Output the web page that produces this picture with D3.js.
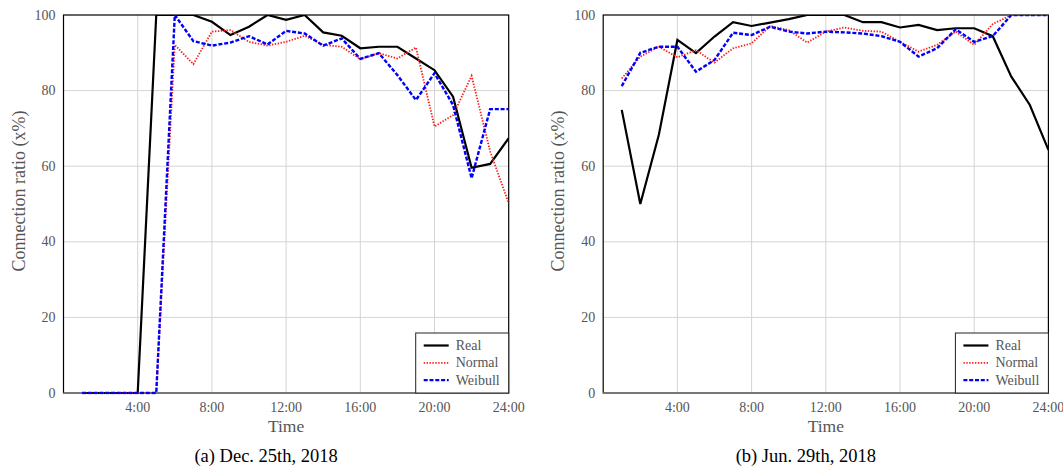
<!DOCTYPE html>
<html>
<head>
<meta charset="utf-8">
<script src="https://cdn.jsdelivr.net/npm/d3@7/dist/d3.min.js"></script>
<style>
  body { margin: 0; background: #fff; }
</style>
</head>
<body>
<script>
// hours 1..24
var hours = d3.range(1, 25);
var xTicks = [4, 8, 12, 16, 20, 24];
var xTickLabels = ["4:00", "8:00", "12:00", "16:00", "20:00", "24:00"];
var yTicks = [0, 20, 40, 60, 80, 100];

// (a) Dec. 25th, 2018
var decReal = [0, 0, 0, 0, 100, 100, 100, 98.2, 94.7, 96.9, 100, 98.7, 100, 95.4, 94.5, 91.2, 91.6, 91.6, 88.5, 85.4, 78.4, 59.6, 60.6, 67.4];
var decNormal = [0, 0, 0, 0, 0, 92.1, 87.0, 95.6, 96.0, 92.9, 91.9, 92.9, 94.5, 92.1, 91.6, 88.3, 89.9, 88.5, 91.4, 70.5, 73.5, 83.9, 63.9, 50.2];
var decWeibull = [0, 0, 0, 0, 0, 100, 93.1, 91.9, 92.7, 94.4, 92.2, 95.8, 95.1, 91.9, 93.8, 88.4, 89.9, 84.1, 77.5, 84.6, 76.2, 56.8, 75.1, 75.1];

// (b) Jun. 29th, 2018
var junReal = [74.9, 50, 68.3, 93.4, 89.9, 94.3, 98.1, 97.1, 98.0, 98.9, 100, 100, 100, 98.1, 98.1, 96.7, 97.4, 96.0, 96.5, 96.5, 94.4, 83.7, 76.2, 64.3];
var junNormal = [83.2, 89.0, 91.6, 88.8, 90.7, 87.4, 91.2, 92.5, 97.1, 96.0, 92.7, 95.6, 96.7, 95.8, 95.6, 92.9, 90.3, 92.1, 95.6, 92.1, 97.6, 100, 100, 100];
var junWeibull = [81.2, 90.0, 91.6, 91.6, 85.0, 88.1, 95.3, 94.7, 96.9, 95.6, 95.1, 95.6, 95.4, 95.1, 94.4, 92.9, 89.0, 91.2, 96.2, 92.9, 94.4, 100, 100, 100];

var seriesNames = ["Real", "Normal", "Weibull"];
var seriesStyle = {
  Real:    { color: "#000", width: 2.2, dash: null },
  Normal:  { color: "#ff1a1a", width: 1.8, dash: "1.4,1.5" },
  Weibull: { color: "#0000ff", width: 2.4, dash: "4,1.8" }
};
var serif = "'Liberation Serif', 'Times New Roman', serif";

var svg = d3.select("body").append("svg")
  .attr("width", 1063)
  .attr("height", 468)
  .attr("font-family", serif);

function drawPanel(id, left, data, caption) {
  var right = left + 445.2, top = 15, bottom = 393;
  var x = d3.scaleLinear().domain([0, 24]).range([left, right]);
  var y = d3.scaleLinear().domain([0, 100]).range([bottom, top]);
  var g = svg.append("g");

  // grid
  g.selectAll(".vg").data(xTicks.slice(0, -1)).enter().append("line")
    .attr("x1", d => x(d)).attr("x2", d => x(d))
    .attr("y1", top).attr("y2", bottom)
    .attr("stroke", "#d4d4d4").attr("stroke-width", 1);
  g.selectAll(".hg").data(yTicks.slice(1, -1)).enter().append("line")
    .attr("x1", left).attr("x2", right)
    .attr("y1", d => y(d)).attr("y2", d => y(d))
    .attr("stroke", "#d4d4d4").attr("stroke-width", 1);

  // frame
  g.append("rect")
    .attr("x", left).attr("y", top).attr("width", right - left).attr("height", bottom - top)
    .attr("fill", "none").attr("stroke", "#000").attr("stroke-width", 1.2);
  g.append("line")
    .attr("x1", left).attr("x2", right).attr("y1", bottom).attr("y2", bottom)
    .attr("stroke", "#777").attr("stroke-width", 2);

  svg.append("clipPath").attr("id", "clip" + id).append("rect")
    .attr("x", left).attr("y", top).attr("width", right - left).attr("height", bottom - top + 1.5);

  var line = d3.line().x((d, i) => x(hours[i])).y(d => y(d));
  var lines = g.append("g").attr("clip-path", "url(#clip" + id + ")");
  seriesNames.forEach(function (name, k) {
    var st = seriesStyle[name];
    lines.append("path")
      .datum(data[k])
      .attr("d", line)
      .attr("fill", "none")
      .attr("stroke", st.color)
      .attr("stroke-width", st.width)
      .attr("stroke-dasharray", st.dash)
      .attr("stroke-linejoin", "miter");
  });

  // tick labels
  g.selectAll(".xl").data(xTicks).enter().append("text")
    .attr("x", d => x(d)).attr("y", bottom + 19)
    .attr("text-anchor", "middle")
    .attr("font-size", 14).attr("fill", "#555")
    .text((d, i) => xTickLabels[i]);
  g.selectAll(".yl").data(yTicks).enter().append("text")
    .attr("x", left - 8).attr("y", d => y(d) + 4.5)
    .attr("text-anchor", "end")
    .attr("font-size", 14).attr("fill", "#555")
    .text(d => d);

  // axis titles
  g.append("text")
    .attr("x", (left + right) / 2).attr("y", bottom + 39)
    .attr("text-anchor", "middle").attr("font-size", 17.5).attr("fill", "#555")
    .text("Time");
  g.append("text")
    .attr("transform", "translate(" + (left - 39) + "," + 191 + ") rotate(-90)")
    .attr("text-anchor", "middle").attr("font-size", 18).attr("fill", "#555")
    .text("Connection ratio (x%)");

  // caption
  g.append("text")
    .attr("x", (left + right) / 2 - 20).attr("y", 462)
    .attr("text-anchor", "middle").attr("font-size", 18.5).attr("fill", "#000")
    .text(caption);

  // legend
  var lx = right - 93, ly = bottom - 60;
  var lg = g.append("g");
  lg.append("rect").attr("x", lx).attr("y", ly).attr("width", 93).attr("height", 60)
    .attr("fill", "#fff").attr("stroke", "#222").attr("stroke-width", 1);
  seriesNames.forEach(function (name, k) {
    var st = seriesStyle[name];
    var yy = ly + 12.5 + k * 17.3;
    lg.append("line")
      .attr("x1", lx + 8).attr("x2", lx + 33).attr("y1", yy).attr("y2", yy)
      .attr("stroke", st.color).attr("stroke-width", st.width)
      .attr("stroke-dasharray", st.dash);
    lg.append("text")
      .attr("x", lx + 40).attr("y", yy + 4.5)
      .attr("font-size", 14).attr("fill", "#555")
      .text(name);
  });
}

drawPanel("a", 63.5, [decReal, decNormal, decWeibull], "(a) Dec. 25th, 2018");
drawPanel("b", 603.2, [junReal, junNormal, junWeibull], "(b) Jun. 29th, 2018");
</script>
</body>
</html>
